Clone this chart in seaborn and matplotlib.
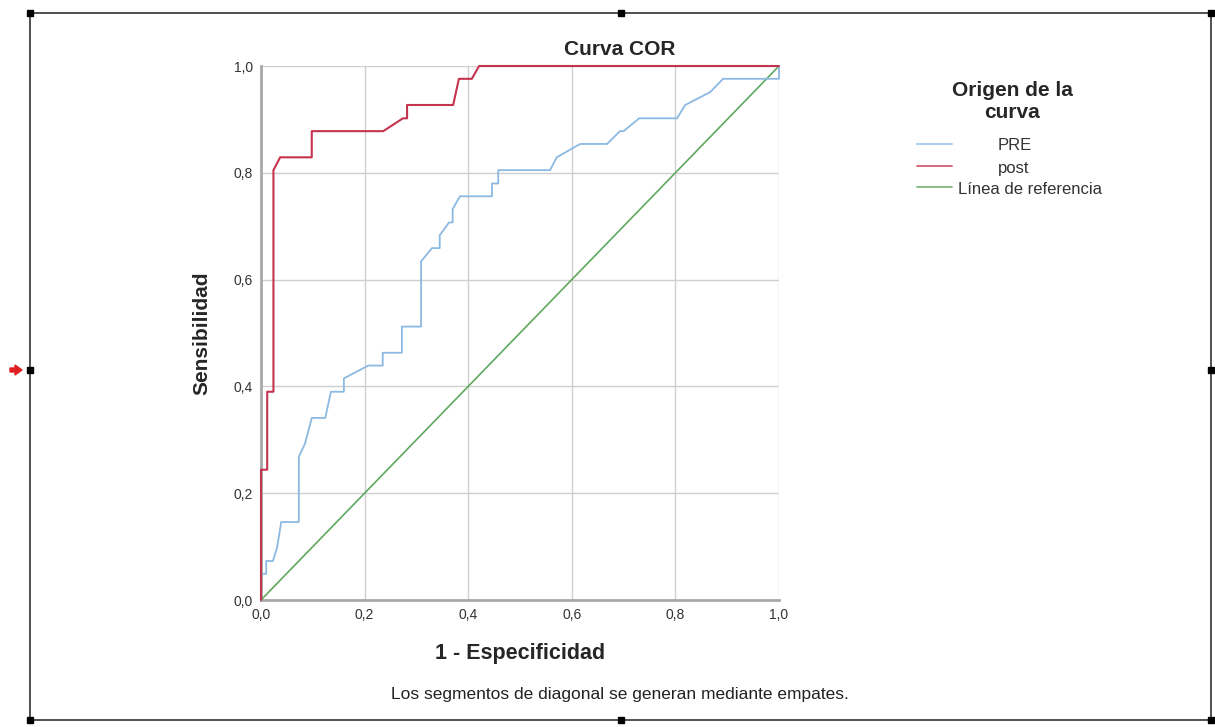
import matplotlib
matplotlib.use("Agg")
import matplotlib.pyplot as plt
import seaborn as sns
import pandas as pd
from matplotlib.lines import Line2D
from matplotlib.patches import Rectangle, FancyArrow

# ROC points (1 - specificity, sensitivity)
pre_fpr = [0, 0, 0.010, 0.010, 0.023, 0.031, 0.039, 0.073, 0.073, 0.085, 0.098, 0.124,
           0.135, 0.160, 0.160, 0.207, 0.235, 0.235, 0.272, 0.272, 0.309, 0.309, 0.330,
           0.345, 0.345, 0.363, 0.370, 0.370, 0.384, 0.446, 0.446, 0.458, 0.458, 0.558,
           0.571, 0.616, 0.668, 0.693, 0.700, 0.730, 0.803, 0.819, 0.867, 0.892, 1.0, 1.0]
pre_tpr = [0, 0.049, 0.049, 0.073, 0.073, 0.098, 0.146, 0.146, 0.268, 0.293, 0.341, 0.341,
           0.390, 0.390, 0.415, 0.439, 0.439, 0.463, 0.463, 0.512, 0.512, 0.634, 0.659,
           0.659, 0.683, 0.707, 0.707, 0.732, 0.756, 0.756, 0.780, 0.780, 0.805, 0.805,
           0.829, 0.854, 0.854, 0.878, 0.878, 0.902, 0.902, 0.927, 0.951, 0.976, 0.976, 1.0]

post_fpr = [0, 0, 0.012, 0.012, 0.024, 0.024, 0.037, 0.098, 0.098, 0.236, 0.274, 0.282,
            0.282, 0.371, 0.382, 0.407, 0.421, 1.0]
post_tpr = [0, 0.244, 0.244, 0.390, 0.390, 0.805, 0.829, 0.829, 0.878, 0.878, 0.902, 0.902,
            0.927, 0.927, 0.976, 0.976, 1.0, 1.0]

ref_x = [0, 1]
ref_y = [0, 1]

ticks = [0, 0.2, 0.4, 0.6, 0.8, 1.0]
tick_labels = ["0,0", "0,2", "0,4", "0,6", "0,8", "1,0"]
series_names = ["PRE", "post", "Línea de referencia"]
colors = {"PRE": "#8cb9e2", "post": "#c4344f", "Línea de referencia": "#5fa85f"}

sns.set_style("white")
plt.rcParams["font.family"] = ["Liberation Sans", "DejaVu Sans"]

W, H = 1215, 727
fig = plt.figure(figsize=(W / 100, H / 100), dpi=100)
ax = fig.add_axes([261 / W, 1 - 600 / H, (779 - 261) / W, (600 - 66) / H])

pre = pd.DataFrame({"x": pre_fpr, "y": pre_tpr})
post = pd.DataFrame({"x": post_fpr, "y": post_tpr})
ref = pd.DataFrame({"x": ref_x, "y": ref_y})

sns.lineplot(data=ref, x="x", y="y", ax=ax, color=colors["Línea de referencia"],
             lw=1.2, sort=False, estimator=None, clip_on=False, zorder=3)
sns.lineplot(data=pre, x="x", y="y", ax=ax, color=colors["PRE"],
             lw=1.3, sort=False, estimator=None, clip_on=False, zorder=4)
sns.lineplot(data=post, x="x", y="y", ax=ax, color=colors["post"],
             lw=1.5, sort=False, estimator=None, clip_on=False, zorder=5)

ax.set_xlim(0, 1)
ax.set_ylim(0, 1)
ax.set_xticks(ticks)
ax.set_xticklabels(tick_labels)
ax.set_yticks(ticks)
ax.set_yticklabels(tick_labels)
ax.tick_params(length=0, labelsize=10, colors="#333333", pad=6)
ax.grid(True, color="#cfcfcf", lw=1)
for s in ["top", "right"]:
    ax.spines[s].set_visible(False)
for s in ["left", "bottom"]:
    ax.spines[s].set_color("#a8a8a8")
    ax.spines[s].set_linewidth(2)

ax.set_xlabel("1 - Especificidad", fontsize=15.5, fontweight="bold", labelpad=15)
ax.set_ylabel("Sensibilidad", fontsize=15, fontweight="bold", labelpad=16)

# title is centred over the whole chart, not over the axes
fig.text(620 / W, 1 - 55 / H, "Curva COR", ha="center", va="baseline",
         fontsize=15, fontweight="bold")

fig.text(620 / W, 1 - 694 / H, "Los segmentos de diagonal se generan mediante empates.",
         ha="center", va="center", fontsize=12.5, color="#222222")

# legend drawn by hand, labels centred like the source
fig.text(1012 / W, 1 - 101 / H, "Origen de la\ncurva", ha="center", va="center",
         fontsize=15, fontweight="bold", linespacing=1.2)
leg_y = [146, 168, 189]
leg_tx = [1015, 1014, 1030]
for name, yy, tx in zip(series_names, leg_y, leg_tx):
    fig.add_artist(Line2D([917 / W, 952 / W], [1 - (yy - 2) / H, 1 - (yy - 2) / H],
                          color=colors[name], lw=1.3, alpha=0.8))
    fig.text(tx / W, 1 - yy / H, name, ha="center", va="center", fontsize=12,
             color="#333333")

# selection frame with handles
fig.add_artist(Rectangle((30 / W, 1 - 720 / H), (1211 - 30) / W, (720 - 13) / H,
                         transform=fig.transFigure, fill=False, ec="#333333", lw=1.2))
hs = 6
for px, py in [(30, 13), (621, 13), (1211, 13), (30, 370), (1211, 370),
               (30, 720), (621, 720), (1211, 720)]:
    fig.add_artist(Rectangle(((px - hs / 2) / W, 1 - (py + hs / 2) / H), hs / W, hs / H,
                             transform=fig.transFigure, color="black"))
fig.add_artist(FancyArrow(10 / W, 1 - 370 / H, 12 / W, 0, width=4 / H, head_width=10 / H,
                          head_length=7 / W, length_includes_head=True,
                          transform=fig.transFigure, color="#e02020"))

fig.savefig("out.png", dpi=100)
